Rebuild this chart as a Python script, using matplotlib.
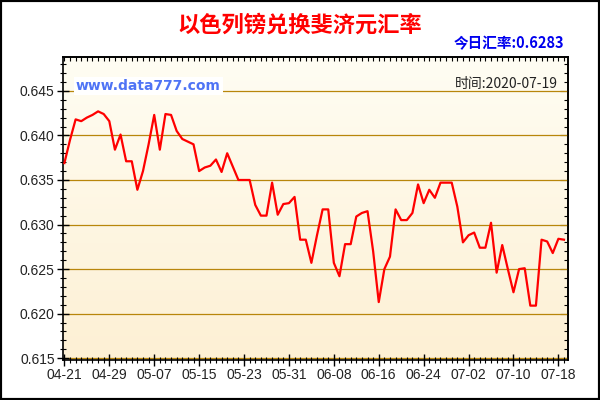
import numpy as np
import pandas as pd
import matplotlib
matplotlib.use("Agg")
import matplotlib.pyplot as plt
import matplotlib.dates as mdates
from matplotlib.colors import LinearSegmentedColormap
from matplotlib.patches import Rectangle

plt.rcParams['font.family'] = ['Liberation Sans', 'Noto Sans CJK SC', 'DejaVu Sans']

# 数据 (04-21 .. 07-19, 每日)
start_date = "2020-04-21"
rates = [
    0.6369, 0.6395, 0.6418, 0.6416, 0.6420, 0.6423, 0.6427, 0.6424, 0.6416, 0.6384,
    0.6401, 0.6371, 0.6371, 0.6339, 0.6360, 0.6390, 0.6423, 0.6384, 0.6424, 0.6423,
    0.6405, 0.6396, 0.6393, 0.6390, 0.6360, 0.6364, 0.6366, 0.6373, 0.6359, 0.6380,
    0.6365, 0.6350, 0.6350, 0.6350, 0.6322, 0.6310, 0.6310, 0.6347, 0.6311, 0.6323,
    0.6324, 0.6331, 0.6283, 0.6283, 0.6257, 0.6288, 0.6317, 0.6317, 0.6257, 0.6242,
    0.6278, 0.6278, 0.6309, 0.6313, 0.6315, 0.6270, 0.6213, 0.6250, 0.6264, 0.6317,
    0.6305, 0.6305, 0.6313, 0.6345, 0.6324, 0.6339, 0.6330, 0.6347, 0.6347, 0.6347,
    0.6320, 0.6280, 0.6288, 0.6291, 0.6274, 0.6274, 0.6302, 0.6246, 0.6277, 0.6250,
    0.6224, 0.6250, 0.6251, 0.6209, 0.6209, 0.6283, 0.6281, 0.6268, 0.6284, 0.6283,
]
dates = pd.date_range(start_date, periods=len(rates), freq="D")
y_ticks = [0.615, 0.620, 0.625, 0.630, 0.635, 0.640, 0.645]

title = "以色列镑兑换斐济元汇率"
today_text = "今日汇率:0.6283"
site_text = "www.data777.com"
time_text = "时间:2020-07-19"

fig = plt.figure(figsize=(6, 4), dpi=100)
fig.patch.set_facecolor("white")
ax = fig.add_axes([0.105, 0.10, 0.842, 0.7575])

# 背景渐变
cmap = LinearSegmentedColormap.from_list("bg", ["#FDF0D4", "#FFFDF3"])
grad = np.linspace(0, 1, 256).reshape(-1, 1)
ax.imshow(grad, extent=[0, 1, 0, 1], transform=ax.transAxes, aspect="auto",
          cmap=cmap, origin="lower", zorder=0)

for v in y_ticks:
    ax.axhline(v, color="#B8860B", lw=0.9, zorder=1)

ax.plot(dates, rates, color="#FF0000", lw=1.6, zorder=3)

ax.set_ylim(0.6148, 0.6488)
ax.set_xlim(dates[0] - pd.Timedelta(hours=6), dates[-1] + pd.Timedelta(hours=18))

ax.set_yticks(y_ticks)
ax.yaxis.set_major_formatter(matplotlib.ticker.FormatStrFormatter("%.3f"))
ax.yaxis.set_minor_locator(matplotlib.ticker.MultipleLocator(0.001))
xt = dates[::8]
ax.set_xticks(xt)
ax.set_xticklabels([d.strftime("%m-%d") for d in xt])
ax.xaxis.set_minor_locator(mdates.DayLocator())

ax.tick_params(axis="both", which="major", direction="inout", length=8, width=1,
               labelsize=10, colors="black", labelcolor="#222222")
ax.tick_params(axis="both", which="minor", direction="inout", length=5, width=0.8)
ax.tick_params(axis="x", pad=2)
ax.tick_params(axis="y", pad=2)

top = ax.secondary_xaxis("top")
top.set_xticks(xt)
top.xaxis.set_minor_locator(mdates.DayLocator())
top.tick_params(which="both", direction="in", length=3, width=0.8, labeltop=False)
right = ax.secondary_yaxis("right")
right.set_yticks(y_ticks)
right.yaxis.set_minor_locator(matplotlib.ticker.MultipleLocator(0.001))
right.tick_params(which="major", direction="in", length=6, labelright=False)
right.tick_params(which="minor", direction="in", length=3, width=0.8)

for s in ax.spines.values():
    s.set_linewidth(1.2)
top.spines["top"].set_linewidth(1.2)
right.spines["right"].set_linewidth(1.2)

fig.text(0.5, 0.937, title, ha="center", va="center", color="#FF0000",
         fontsize=16, fontweight="bold", family=["Noto Sans CJK SC", "DejaVu Sans"])
fig.text(0.94, 0.893, today_text, ha="right", va="center", color="#0000EE",
         fontsize=10.5, fontweight="bold", family=["Noto Sans CJK SC", "DejaVu Sans"])

ax.text(0.025, 0.905, site_text, transform=ax.transAxes, ha="left", va="center",
        color="#4F74F5", fontsize=10, fontweight="bold", family="DejaVu Sans",
        bbox=dict(facecolor="white", edgecolor="none", pad=1.5), zorder=4)
ax.text(0.98, 0.91, time_text, transform=ax.transAxes, ha="right", va="center",
        color="#222222", fontsize=10, family=["Noto Sans CJK SC", "DejaVu Sans"],
        zorder=4)

fig.patches.append(Rectangle((0, 0), 1, 1, transform=fig.transFigure, fill=False,
                             edgecolor="black", lw=3))

fig.savefig("out.png", dpi=100)
